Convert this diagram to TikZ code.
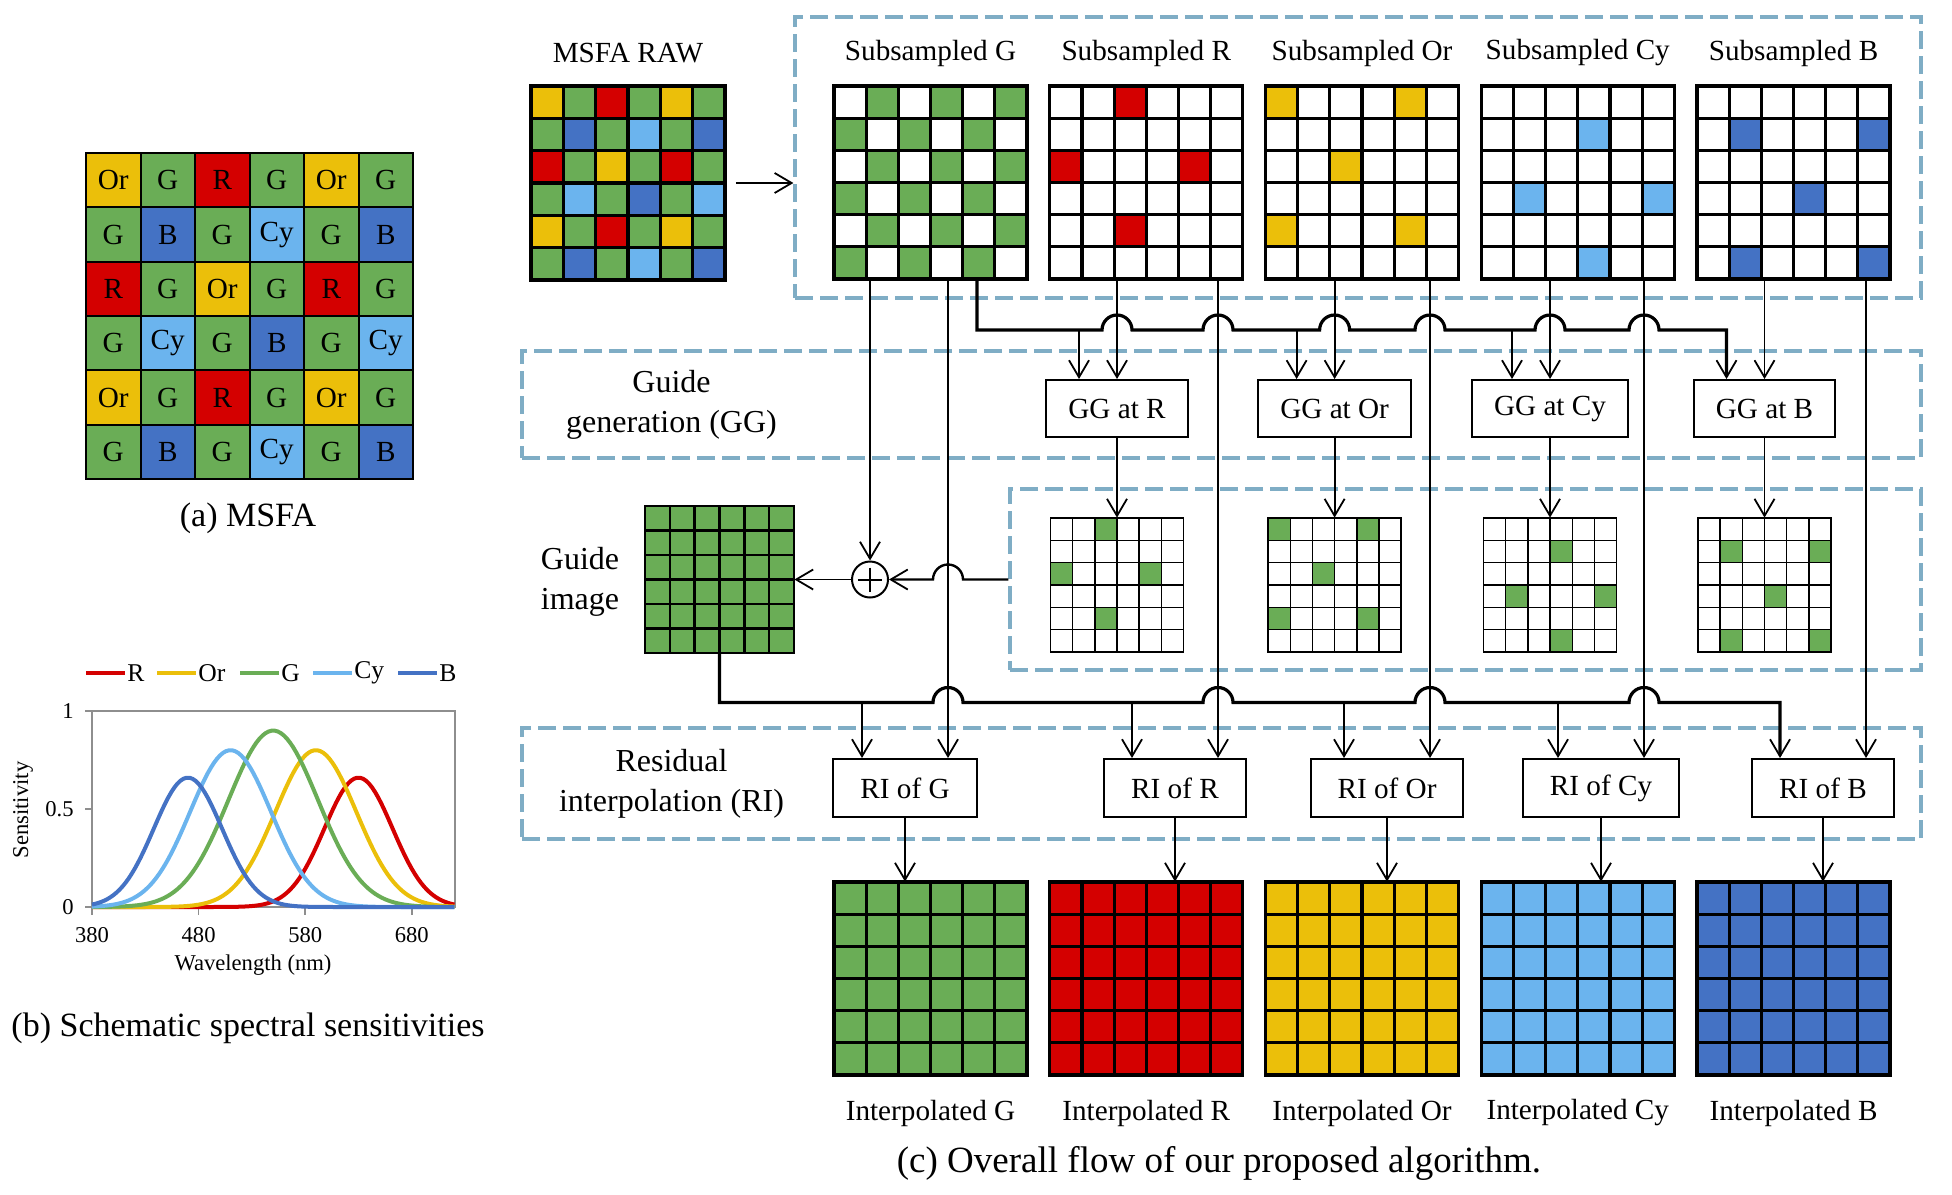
\documentclass[tikz,border=0pt]{standalone}
\usepackage{fontspec}
\setmainfont{Liberation Serif}
\usetikzlibrary{arrows.meta}
\definecolor{cR}{HTML}{D40000}
\definecolor{cOr}{HTML}{EBBF0A}
\definecolor{cG}{HTML}{6AAD56}
\definecolor{cCy}{HTML}{6BB4EE}
\definecolor{cB}{HTML}{4472C4}
\definecolor{stageblue}{HTML}{7FADC5}
\definecolor{axisgray}{HTML}{8E8E8E}
% MSFA pattern, row by row
\newcommand\msfa{{Or,G,R,G,Or,G},{G,B,G,Cy,G,B},{R,G,Or,G,R,G},{G,Cy,G,B,G,Cy},{Or,G,R,G,Or,G},{G,B,G,Cy,G,B}}
% #1,#2 corner, #3,#4 cell, #5 band (raw = all), #6 on band, #7 off band, #8 line style
\newcommand\mosaic[8]{%
  \foreach \row [count=\rr from 0] in \msfa {
    \foreach \lab [count=\cc from 0] in \row {
      \ifnum\strcmp{#5}{raw}=0 \edef\fc{c\lab}\else
        \ifnum\strcmp{\lab}{#5}=0 \edef\fc{#6}\else\edef\fc{#7}\fi\fi
      \fill[fill=\fc] ({#1+\cc*#3},{#2+\rr*#4}) rectangle +(#3,#4);
    }
  }
  \foreach \i in {0,...,6} {
    \draw[#8] ({#1+\i*#3},{#2}) -- +(0,{6*#4});
    \draw[#8] ({#1},{#2+\i*#4}) -- +({6*#3},0);
  }}

\begin{document}
\begin{tikzpicture}[x=0.5pt,y=-0.5pt,
  >={Straight Barb[length=8.5pt,width=10pt,line width=0.9pt]},
  lab/.style={font=\fontsize{14.6}{17}\selectfont,inner sep=1pt},
  side/.style={font=\fontsize{16}{20}\selectfont,align=center},
  capt/.style={font=\fontsize{17}{20}\selectfont},
  box/.style={draw,line width=1pt,minimum height=28.5pt,font=\fontsize{14.6}{17}\selectfont},
  stage/.style={draw=stageblue,line width=1.6pt,dash pattern=on 9pt off 3.5pt,inner sep=0pt},
  area/.style={minimum width=96.5pt,minimum height=96.5pt,inner sep=0pt},
  fine/.style={line width=0.9pt},
  midw/.style={line width=1.2pt},
  bus/.style={line width=1.6pt},
  heavy/.style={line width=1.6pt,line cap=rect},
  midgrid/.style={line width=1.2pt,line cap=rect},
  soft/.style={line width=1pt,line cap=rect},
  hair/.style={line width=0.7pt,line cap=rect},
  axline/.style={draw=axisgray,line width=0.8pt},
  curve/.style={line width=2pt},
  ticklab/.style={font=\fontsize{11.3}{13}\selectfont,inner sep=1pt},
  leg/.style={font=\fontsize{12.8}{15}\selectfont,inner sep=1pt}]
\useasboundingbox (0,0) rectangle (1952,1194);

% (a) MSFA
\mosaic{86}{153}{54.5}{54.33}{raw}{}{}{soft}
\foreach \row [count=\rr from 0] in \msfa
  \foreach \lab [count=\cc from 0] in \row
    \node[lab] (m\rr\cc) at ({86+(\cc+0.5)*54.5},{153+(\rr+0.5)*54.33}) {\lab};
\node[capt] (capa) at (248,518) {(a) MSFA};

% (b) spectral sensitivities
\draw[axline] (92,711) rectangle (455,907);
\foreach \v/\yy [count=\i] in {0/907,0.5/809,1/711} {
  \draw[axline] (85,\yy) -- (92,\yy);
  \node[ticklab,anchor=east] (yt\i) at (76,\yy) {\v};
}
\foreach \w in {380,480,580,680} {
  \draw[axline] ({92+(\w-380)*1.066},907) -- +(0,8);
  \node[ticklab] (xt\w) at ({92+(\w-380)*1.066},935) {\w};
}
\node[ticklab] (wl) at (253,965) {Wavelength (nm)};
\node[ticklab,rotate=90] (sens) at (23,810) {Sensitivity};
\foreach \col/\mu/\hh/\sg in {cR/630/0.66/32,cOr/590/0.8/38,cG/550/0.9/42,cCy/510/0.8/38,cB/470/0.66/32}
  \draw[curve,draw=\col] plot[domain=380:720,samples=120]
    ({92+(\x-380)*1.066},{907-196*\hh*exp(max(-10,-0.5*((\x-\mu)/\sg)*((\x-\mu)/\sg)))});
\foreach \col/\t/\a in {cR/R/86,cOr/Or/157,cG/G/240,cCy/Cy/313,cB/B/398} {
  \draw[curve,draw=\col] (\a,673) -- +(39,0);
  \node[leg,anchor=west] (leg\t) at ({\a+39},673) {\t};
}
\node[capt] (capb) at (248,1028) {(b) Schematic spectral sensitivities};

% (c) stages
\node[stage,minimum width=563pt,minimum height=140.5pt] (topst) at (1358,157.5) {};
\node[stage,minimum width=699.5pt,minimum height=53.5pt] (ggst) at (1221.5,404.5) {};
\node[stage,minimum width=455.5pt,minimum height=90.5pt] (gdst) at (1465.5,579.5) {};
\node[stage,minimum width=699.5pt,minimum height=55.5pt] (rist) at (1221.5,783.5) {};
\node[side] (ggtxt) at (671.5,405) {Guide\\generation (GG)};
\node[side] (ritxt) at (671.5,784) {Residual\\interpolation (RI)};
\node[side] (gdtxt) at (580,582) {Guide\\image};

\mosaic{531}{86}{32.33}{32.33}{raw}{}{}{heavy}
\node[area] (raw) at (628,183) {};
\node[lab] (rawl) at (628,53) {MSFA RAW};
\draw[fine,->,shorten <=5.5pt] (raw.east) -- (raw.east -| topst.west);

\foreach \ch/\k in {G/0,R/1,Or/2,Cy/3,B/4} {
  \pgfmathsetmacro\gx{834+215.75*\k}
  \mosaic{\gx}{86}{32.17}{32.17}{\ch}{c\ch}{white}{heavy}
  \node[area] (sub\ch) at ({\gx+96.5},182.5) {};
  \node[lab] (subl\ch) at ({\gx+96.5},53) {Subsampled \ch};
  \mosaic{\gx}{882}{32.17}{32.17}{\ch}{c\ch}{c\ch}{heavy}
  \node[area] (int\ch) at ({\gx+96.5},978.5) {};
  \node[lab] (intl\ch) at ({\gx+96.5},1113) {Interpolated \ch};
}

% guide image
\mosaic{645}{506}{24.83}{24.5}{G}{cG}{cG}{midgrid}
\node[minimum width=74.5pt,minimum height=73.5pt,inner sep=0pt] (guide) at (719.5,579.5) {};

% guide generation
\foreach \ch/\x in {R/1117,Or/1334.6,Cy/1550,B/1764.5} {
  \node[box,inner xsep=11pt] (gg\ch) at (\x,408.5) {GG at \ch};
  \coordinate (ggl\ch) at ([xshift=-19pt]gg\ch.north);
  \mosaic{\x-66.5}{518}{22.17}{22.33}{\ch}{cG}{white}{hair}
  \node[minimum width=66.5pt,minimum height=67pt,inner sep=0pt] (gd\ch) at (\x,585) {};
  \draw[fine,->] (gg\ch.north |- sub\ch.south) -- (gg\ch.north);
  \draw[fine,->] (gg\ch.south) -- (gd\ch.north);
}

% residual interpolation
\foreach \ch/\x in {G/905,R/1175,Or/1387,Cy/1601,B/1823} {
  \node[box,inner xsep=13.5pt,minimum height=29pt] (ri\ch) at (\x,788) {RI of \ch};
  \coordinate (ril\ch) at ([xshift=-21.5pt]ri\ch.north);
  \coordinate (rir\ch) at ([xshift=21.5pt]ri\ch.north);
  \draw[midw,->] (rir\ch |- sub\ch.south) -- (rir\ch);
  \draw[fine,->] (ri\ch.south) -- (int\ch.north -| ri\ch.south);
}

% buses with hops
\coordinate (gglev) at (0,330);
\coordinate (rilev) at (0,702.5);
\coordinate (gsrc) at ([xshift=23.25pt]subG.south);
\draw[bus,->] (gsrc) -- (gsrc |- gglev)
  \foreach \hh in {1117,1218,1334.6,1430,1550,1644} { -- ({\hh-15},330) arc[start angle=180,end angle=360,radius=15] }
  -- (gglB |- gglev) -- (gglB);
\foreach \ch in {R,Or,Cy} \draw[fine,->] (ggl\ch |- gglev) -- (ggl\ch);
\draw[bus,->] (guide.south) -- (guide.south |- rilev)
  \foreach \hh in {948,1218,1430,1644} { -- ({\hh-15},702.5) arc[start angle=180,end angle=360,radius=15] }
  -- (rilB |- rilev) -- (rilB);
\foreach \ch in {G,R,Or,Cy} \draw[fine,->] (ril\ch |- rilev) -- (ril\ch);

% sum of guides
\node[draw,circle,line width=1pt,minimum size=18pt,inner sep=0pt,
  path picture={\draw[line width=1pt] ([yshift=-3pt]path picture bounding box.north) -- ([yshift=3pt]path picture bounding box.south)
    ([xshift=3pt]path picture bounding box.west) -- ([xshift=-3pt]path picture bounding box.east);}] (plus) at (870,579.5) {};
\draw[fine,->] (plus.north |- subG.south) -- (plus.north);
\draw[midw,->] (gdst.west) -- (963,579.5) arc[start angle=0,end angle=-180,radius=15] -- (plus.east);
\draw[fine,->] (plus.west) -- (guide.east);

\node[font=\fontsize{18.5}{22}\selectfont] (capc) at (1219,1163) {(c) Overall flow of our proposed algorithm.};
\end{tikzpicture}
\end{document}
